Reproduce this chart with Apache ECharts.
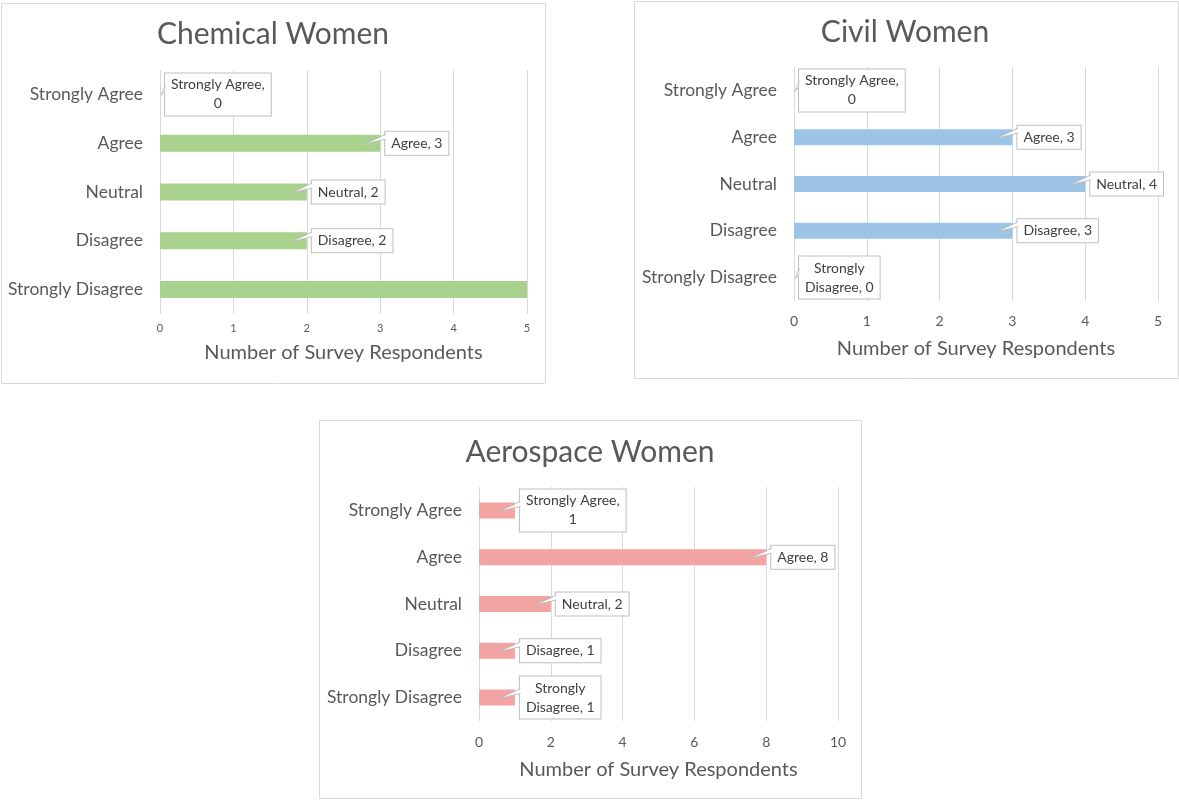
<!DOCTYPE html>
<html>
<head>
<meta charset="utf-8">
<script src="https://cdn.jsdelivr.net/npm/echarts@6/dist/echarts.min.js"></script>
<style>
  html, body { margin: 0; padding: 0; background: #ffffff; }
  #chart { width: 1179px; height: 800px; }
</style>
</head>
<body>
<div id="chart"></div>
<script>
// Survey responses by department, one horizontal bar panel each
const categories = ['Strongly Agree', 'Agree', 'Neutral', 'Disagree', 'Strongly Disagree'];
const chemicalValues = [0, 3, 2, 2, 5];
const civilValues = [0, 3, 4, 3, 0];
const aerospaceValues = [1, 8, 2, 1, 1];
const chemicalHiddenLabels = ['Strongly Disagree'];
const titles = ['Chemical Women', 'Civil Women', 'Aerospace Women'];
const axisTitle = 'Number of Survey Respondents';

const FONT = 'Lato, "Open Sans", sans-serif';
const GREY = '#595959';

// Panel geometry
const panels = [
  { box: [1, 3, 544, 380], grid: { left: 160, top: 70, width: 367, height: 244 },
    titleAt: [273, 34], max: 5, interval: 1, tickSize: 11, tickMargin: 9, nameGap: 29,
    color: '#a9d18e', values: chemicalValues, hidden: chemicalHiddenLabels, barWidth: 17 },
  { box: [634, 1, 544, 377], grid: { left: 794, top: 67, width: 364, height: 234 },
    titleAt: [905, 32], max: 5, interval: 1, tickSize: 14, tickMargin: 13, nameGap: 38,
    color: '#9dc3e6', values: civilValues, hidden: [], barWidth: 16 },
  { box: [319, 420, 542, 378], grid: { left: 479, top: 487, width: 359, height: 234 },
    titleAt: [590, 452], max: 10, interval: 2, tickSize: 14, tickMargin: 14, nameGap: 39,
    color: '#f2a3a2', values: aerospaceValues, hidden: [], barWidth: 16 }
];

function calloutText(name, value) {
  if (name === 'Strongly Agree') return '{c|Strongly Agree,}\n{c|' + value + '}';
  if (name === 'Strongly Disagree') return '{c|Strongly}\n{c|Disagree, ' + value + '}';
  return '{c|' + name + ', ' + value + '}';
}

const labelStyle = {
  show: true,
  position: 'right',
  distance: 5,
  backgroundColor: '#ffffff',
  borderColor: '#bfbfbf',
  borderWidth: 1,
  padding: [2, 6],
  formatter: p => calloutText(p.name, p.value),
  rich: { c: { align: 'center', fontFamily: FONT, fontSize: 14, lineHeight: 19, color: '#404040' } }
};

// Leader wedge joining each callout box to its bar
function renderPointer(params, api) {
  const v = api.value(0), c = api.value(1);
  const end = api.coord([v, c]);
  const zero = api.coord([0, c]);
  const bx = end[0] + 5;
  const cy = end[1];
  const tipX = Math.max(end[0] - 16, zero[0] + 1);
  const top = cy - 9, bot = cy - 4;
  return {
    type: 'group',
    children: [
      { type: 'polygon', shape: { points: [[bx + 1.5, top + 0.5], [tipX, cy + 1], [bx + 1.5, bot - 0.5]] },
        style: { fill: '#ffffff', stroke: null } },
      { type: 'polyline', shape: { points: [[bx + 0.5, top], [tipX, cy + 1], [bx + 0.5, bot]] },
        style: { fill: null, stroke: '#bfbfbf', lineWidth: 1 } }
    ]
  };
}

const option = {
  backgroundColor: '#ffffff',
  animation: false,
  grid: panels.map(p => Object.assign({ containLabel: false }, p.grid)),
  xAxis: panels.map((p, i) => ({
    type: 'value', gridIndex: i, min: 0, max: p.max, interval: p.interval,
    name: axisTitle, nameLocation: 'middle', nameGap: p.nameGap,
    nameTextStyle: { fontFamily: FONT, fontSize: 20, color: GREY },
    axisLine: { show: false }, axisTick: { show: false },
    axisLabel: { fontFamily: FONT, fontSize: p.tickSize, color: GREY, margin: p.tickMargin },
    splitLine: { show: true, lineStyle: { color: '#d9d9d9', width: 1 } }
  })),
  yAxis: panels.map((p, i) => ({
    type: 'category', gridIndex: i, data: categories, inverse: true,
    axisLine: { show: false }, axisTick: { show: false },
    axisLabel: { fontFamily: FONT, fontSize: 17.5, color: GREY, margin: 17 }
  })),
  graphic: panels.map((p, i) => [
    { type: 'rect', z: -10, shape: { x: p.box[0] + 0.5, y: p.box[1] + 0.5, width: p.box[2], height: p.box[3] },
      style: { fill: '#ffffff', stroke: '#d9d9d9', lineWidth: 1 } },
    { type: 'text', x: p.titleAt[0], y: p.titleAt[1],
      style: { text: titles[i], fontFamily: FONT, fontSize: 30, fill: GREY, align: 'center', verticalAlign: 'middle' } }
  ]).flat(),
  series: panels.map((p, i) => [
    { type: 'bar', xAxisIndex: i, yAxisIndex: i, barWidth: p.barWidth, z: 2,
      itemStyle: { color: p.color },
      label: labelStyle,
      data: p.values.map((v, k) => p.hidden.includes(categories[k]) ? { value: v, label: { show: false } } : v) },
    { type: 'custom', xAxisIndex: i, yAxisIndex: i, z: 5, silent: true,
      renderItem: renderPointer,
      encode: { x: 0, y: 1 },
      data: p.values.map((v, k) => [v, k]).filter((d, k) => !p.hidden.includes(categories[k])) }
  ]).flat()
};

const chart = echarts.init(document.getElementById('chart'), null, { renderer: 'canvas' });
chart.setOption(option);
</script>
</body>
</html>
